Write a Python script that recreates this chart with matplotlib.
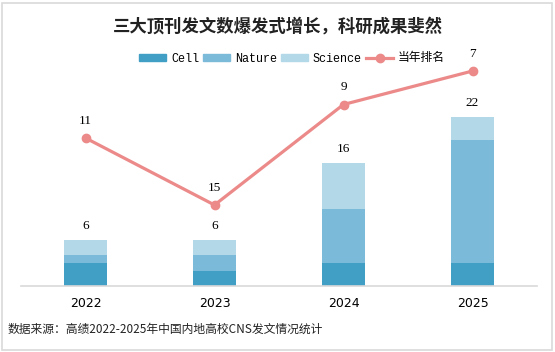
import matplotlib
matplotlib.use("Agg")
import matplotlib.pyplot as plt
from matplotlib.patches import Rectangle
from matplotlib.lines import Line2D
from matplotlib.patches import Patch

plt.rcParams['font.family'] = ['Noto Sans CJK SC', 'DejaVu Sans']

years = ["2022", "2023", "2024", "2025"]
cell = [3, 2, 3, 3]
nature = [1, 2, 7, 16]
science = [2, 2, 6, 3]
ranks = [11, 15, 9, 7]

c_cell = "#419fc6"
c_nat = "#7bbad8"
c_sci = "#b3d8e8"
c_line = "#ec8a8a"

fig = plt.figure(figsize=(5.55, 3.52), dpi=100)
W, H = 555, 352
ax = fig.add_axes([21 / W, (H - 286) / H, 516 / W, 226 / H])
x = list(range(len(years)))
bw = 43 / 129
ax.bar(x, cell, bw, color=c_cell, label="Cell", zorder=2)
b2 = [c for c in cell]
ax.bar(x, nature, bw, bottom=b2, color=c_nat, label="Nature", zorder=2)
b3 = [c + n for c, n in zip(cell, nature)]
ax.bar(x, science, bw, bottom=b3, color=c_sci, label="Science", zorder=2)
totals = [a + b + c for a, b, c in zip(cell, nature, science)]
for xi, t in zip(x, totals):
    ax.annotate(str(t), (xi, t), xytext=(0, 6), textcoords="offset points",
                ha="center", va="bottom", fontsize=9.5, family="Liberation Serif")
ax.set_xlim(-0.5, 3.5)
ax.set_ylim(0, 226 / 7.67)
ax.set_yticks([])
ax.set_xticks(x)
ax.set_xticklabels(years, fontsize=9, family="DejaVu Sans")
ax.tick_params(axis="x", length=0, pad=8)
for s in ["top", "right", "left"]:
    ax.spines[s].set_visible(False)
ax.spines["bottom"].set_color("#d9d9d9")
ax.spines["bottom"].set_linewidth(1.2)
ax.patch.set_alpha(0)

ax2 = ax.twinx()
ax2.plot(x, ranks, color=c_line, lw=2.3, marker="o", ms=6, zorder=3, label="当年排名")
for xi, r in zip(x, ranks):
    ax2.annotate(str(r), (xi, r), xytext=(0, 8), textcoords="offset points",
                 ha="center", va="bottom", fontsize=9.5, family="Liberation Serif")
ax2.set_ylim(11 + (286 - 138) / 16.75, 11 + (60 - 138) / 16.75)
ax2.set_yticks([])
for s in ["top", "right", "left", "bottom"]:
    ax2.spines[s].set_visible(False)

fig.text(278 / W, 1 - 27 / H, "三大顶刊发文数爆发式增长，科研成果斐然", ha="center", va="center",
         fontsize=12.5, fontweight="bold", color="#222222")

handles = [Patch(color=c_cell, label="Cell"), Patch(color=c_nat, label="Nature"),
           Patch(color=c_sci, label="Science"),
           Line2D([0], [0], color=c_line, lw=2.3, marker="o", ms=6, label="当年排名")]
leg = fig.legend(handles=handles, loc="center", bbox_to_anchor=(292 / W, 1 - 58 / H), ncol=4,
                 frameon=False, fontsize=8.5, handlelength=2.3, handleheight=0.5,
                 columnspacing=0.35, handletextpad=0.4, borderaxespad=0)
for t in leg.get_texts()[:3]:
    t.set_family("Liberation Mono")

fig.text(8 / W, 1 - 329 / H, "数据来源：高绩2022-2025年中国内地高校CNS发文情况统计", ha="left", va="center",
         fontsize=8.5, style="italic", color="#222222")

fig.patches.append(Rectangle((2 / W, 2 / H), 550 / W, 347 / H, transform=fig.transFigure,
                             fill=False, edgecolor="#d9d9d9", lw=1.2))

fig.savefig("out.png", dpi=100)
